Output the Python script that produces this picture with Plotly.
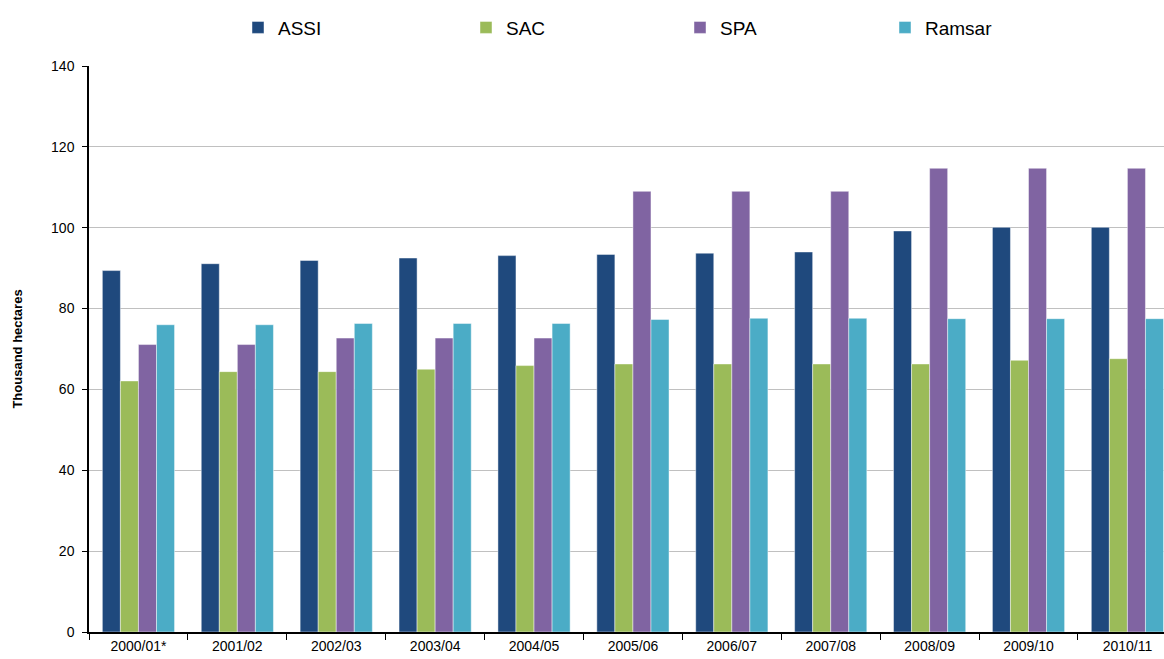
import plotly.graph_objects as go

years = ["2000/01*", "2001/02", "2002/03", "2003/04", "2004/05", "2005/06",
         "2006/07", "2007/08", "2008/09", "2009/10", "2010/11"]

assi = [89.4, 91.1, 91.9, 92.5, 93.1, 93.4, 93.7, 94.0, 99.2, 100.1, 100.1]
sac = [62.1, 64.4, 64.4, 65.0, 65.9, 66.3, 66.3, 66.3, 66.3, 67.2, 67.6]
spa = [71.1, 71.1, 72.7, 72.7, 72.7, 109.0, 109.0, 109.0, 114.7, 114.7, 114.7]
ramsar = [76.0, 76.0, 76.3, 76.3, 76.3, 77.3, 77.6, 77.6, 77.5, 77.5, 77.5]

series = [
    ("ASSI", assi, "#1F497D"),
    ("SAC", sac, "#9BBB59"),
    ("SPA", spa, "#8064A2"),
    ("Ramsar", ramsar, "#4BACC6"),
]

# left edge (px) of each legend entry along the top row
legend_left_px = [238, 466, 680, 885]

W, H = 1164, 659
FONT = "Liberation Sans, Arial, sans-serif"

fig = go.Figure()
legend_layout = {}
for i, (name, vals, color) in enumerate(series):
    lname = "legend" if i == 0 else f"legend{i + 1}"
    fig.add_trace(go.Bar(
        x=years, y=vals, name=name, legend=lname, showlegend=True,
        marker=dict(color=color, line=dict(color="rgba(255,255,255,0.45)", width=1)),
    ))
    legend_layout[lname] = dict(
        orientation="h", x=legend_left_px[i] / W, y=0.987,
        xref="container", yref="container", xanchor="left", yanchor="top",
        font=dict(size=19, family=FONT, color="black"),
        itemwidth=30, bgcolor="rgba(0,0,0,0)", visible=True,
    )

fig.update_layout(
    width=W, height=H,
    showlegend=True,
    barmode="group", bargap=0.27, bargroupgap=0,
    paper_bgcolor="white", plot_bgcolor="white",
    margin=dict(l=89, r=0, t=66, b=27),
    font=dict(family=FONT, color="black", size=13),
    xaxis=dict(
        range=[-0.5, 10.37],
        showline=True, linecolor="black", linewidth=1.5,
        ticks="outside", ticklen=6, tickcolor="black", tickson="boundaries",
        showgrid=False, tickfont=dict(size=14, family=FONT),
    ),
    yaxis=dict(
        range=[0, 140], dtick=20,
        showline=True, linecolor="black", linewidth=1.5,
        ticks="outside", ticklen=5, tickcolor="black",
        ticklabelstandoff=5,
        showgrid=True, gridcolor="#C0C0C0", gridwidth=1,
        zeroline=False,
        tickfont=dict(size=14, family=FONT),
        title=dict(text="<b>Thousand hectares</b>", font=dict(size=13, family=FONT), standoff=26),
    ),
    **legend_layout,
)

fig.write_html("out.html")
